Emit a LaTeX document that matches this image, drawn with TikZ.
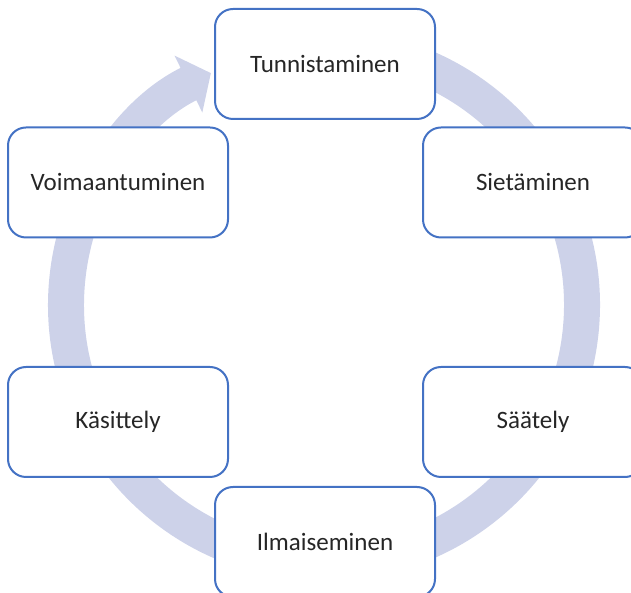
\documentclass[tikz,border=0pt]{standalone}
\usepackage{fontspec}
\setmainfont{Carlito}
\usetikzlibrary{arrows.meta}
\definecolor{boxblue}{RGB}{68,114,196}
\definecolor{ringblue}{RGB}{205,210,233}
\begin{document}
\begin{tikzpicture}[x=1pt,y=1pt,
    stage/.style={draw=boxblue, line width=2pt, fill=white, rounded corners=18pt,
        minimum width=220pt, minimum height=110pt, inner sep=0pt,
        font=\fontsize{25}{30}\selectfont, text=black!85},
    ring/.style={draw=ringblue, line width=36pt,
        -{Triangle[width=62pt,length=25pt]}}]
    \useasboundingbox (0,0) rectangle (631,593);
    \clip (0,0) rectangle (631,593);

    % the cycle behind the boxes
    \coordinate (hub) at (324,288);
    \draw[ring] ([shift={(85:258)}]hub) arc[start angle=85, end angle=-244, radius=258];

    \node[stage] (tunn) at (325,529) {Tunnistaminen};
    \node[stage] (siet) at (533,410.5) {Sietäminen};
    \node[stage] (saat) at (533,171) {Säätely};
    \node[stage] (ilma) at (325,51) {Ilmaiseminen};
    \node[stage] (kasi) at (118,171) {Käsittely};
    \node[stage] (voim) at (118,410.5) {Voimaantuminen};
\end{tikzpicture}
\end{document}
